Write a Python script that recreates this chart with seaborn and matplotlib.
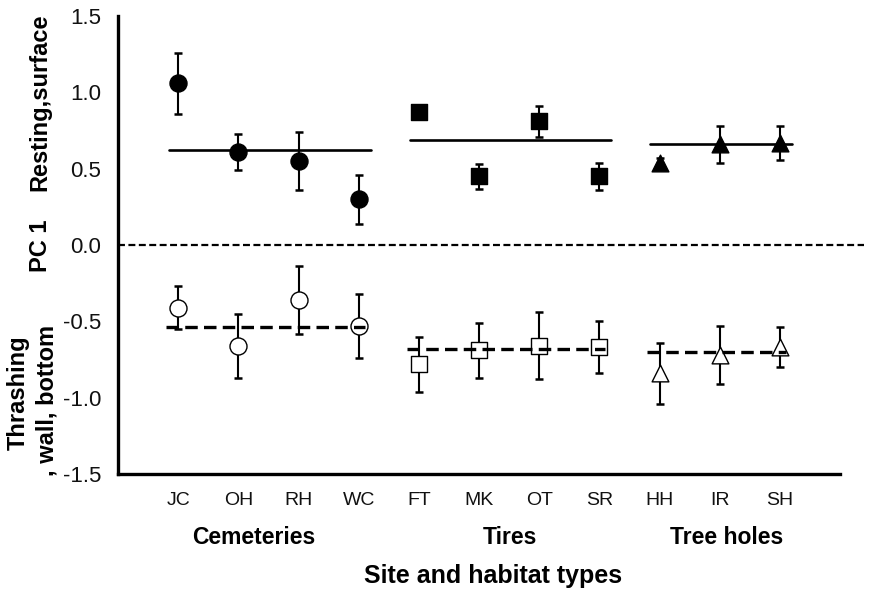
import numpy as np
import pandas as pd
import matplotlib
matplotlib.use('Agg')
import matplotlib.pyplot as plt
import seaborn as sns

sns.set_theme(style="white")
plt.rcParams['font.family'] = ['Liberation Sans', 'DejaVu Sans']
plt.rcParams['lines.scale_dashes'] = False
plt.rcParams['text.color'] = 'black'

# values
sites = ['JC', 'OH', 'RH', 'WC', 'FT', 'MK', 'OT', 'SR', 'HH', 'IR', 'SH']
habitats = ['Cemeteries'] * 4 + ['Tires'] * 4 + ['Tree holes'] * 3
habitat_order = ['Cemeteries', 'Tires', 'Tree holes']
habitat_markers = {'Cemeteries': 'o', 'Tires': 's', 'Tree holes': '^'}

upper_mean = [1.06, 0.61, 0.55, 0.30, 0.87, 0.45, 0.81, 0.45, 0.54, 0.66, 0.67]
upper_err = [0.20, 0.12, 0.19, 0.16, 0.02, 0.08, 0.10, 0.09, 0.03, 0.12, 0.11]
lower_mean = [-0.41, -0.66, -0.36, -0.53, -0.78, -0.69, -0.66, -0.67, -0.84, -0.72, -0.67]
lower_err = [0.14, 0.21, 0.22, 0.21, 0.18, 0.18, 0.22, 0.17, 0.20, 0.19, 0.13]

upper_avg = [0.62, 0.69, 0.66]
lower_avg = [-0.54, -0.68, -0.70]

df = pd.DataFrame({'site': sites, 'habitat': habitats,
                   'upper': upper_mean, 'upper_err': upper_err,
                   'lower': lower_mean, 'lower_err': lower_err})
df['pos'] = np.arange(1, len(df) + 1)

marker_size = {'Cemeteries': 150, 'Tires': 140, 'Tree holes': 145}

fig = plt.figure(figsize=(8.72, 6.0), dpi=100)
ax = fig.add_axes([118 / 872, 1 - 474 / 600, (840 - 118) / 872, (474 - 16) / 600])

# error bars
for col, err in [('upper', 'upper_err'), ('lower', 'lower_err')]:
    ax.errorbar(df['pos'], df[col], yerr=df[err], fmt='none', ecolor='black',
                elinewidth=1.5, capsize=3, capthick=1.8, zorder=2)

# markers: filled above, open below
for hab in habitat_order:
    sub = df[df['habitat'] == hab]
    sns.scatterplot(data=sub, x='pos', y='upper', marker=habitat_markers[hab],
                    s=marker_size[hab], color='black', edgecolor='black',
                    linewidth=1, ax=ax, zorder=3, legend=False)
    sns.scatterplot(data=sub, x='pos', y='lower', marker=habitat_markers[hab],
                    s=marker_size[hab], color='white', edgecolor='black',
                    linewidth=1, ax=ax, zorder=3, legend=False)

# habitat means
for i, hab in enumerate(habitat_order):
    p = df.loc[df['habitat'] == hab, 'pos']
    ax.plot([p.min() - 0.15, p.max() + 0.2], [upper_avg[i]] * 2,
            color='black', lw=1.9, zorder=4)
    ax.plot([p.min() - 0.2, p.max() + 0.1], [lower_avg[i]] * 2,
            color='black', lw=2.4, dashes=(9, 4.5), zorder=4)

# zero line
ax.plot([0, 12.4], [0, 0], color='black', lw=1.6, dashes=(5, 2.5),
        clip_on=False, zorder=1)

ax.set_xlim(0, 12)
ax.set_ylim(-1.5, 1.5)
ax.set_xticks(df['pos'])
ax.set_xticklabels(df['site'])
ax.set_yticks(np.arange(-1.5, 1.51, 0.5))
ax.set_yticklabels([f'{v:.1f}' for v in np.arange(-1.5, 1.51, 0.5)])
ax.set_xlabel('')
ax.set_ylabel('')
ax.tick_params(axis='both', direction='out', length=3, width=1.8,
               color='black', labelcolor='#111111')
ax.tick_params(axis='y', pad=9, labelsize=16)
ax.tick_params(axis='x', pad=10, labelsize=14)

sns.despine(ax=ax)
for s in ['left', 'bottom']:
    ax.spines[s].set_linewidth(2.4)
    ax.spines[s].set_color('black')

# group labels and axis titles
def px(x, y):
    return x / 872, 1 - y / 600

for name, x in zip(habitat_order, [254, 510, 727]):
    fig.text(*px(x, 544), name, ha='center', va='baseline',
             fontsize=16.5, fontweight='bold')
fig.text(*px(493, 583), 'Site and habitat types', ha='center', va='baseline',
         fontsize=18, fontweight='bold')

fig.text(*px(40, 102), 'Resting,surface', rotation=90, ha='center', va='center',
         fontsize=17, fontweight='bold')
fig.text(*px(40, 246), 'PC 1', rotation=90, ha='center', va='center',
         fontsize=17, fontweight='bold')
fig.text(*px(18, 393), 'Thrashing', rotation=90, ha='center', va='center',
         fontsize=17, fontweight='bold')
fig.text(*px(47, 400), ', wall, bottom', rotation=90, ha='center', va='center',
         fontsize=17, fontweight='bold')

fig.savefig('out.png', dpi=100, facecolor='white')
